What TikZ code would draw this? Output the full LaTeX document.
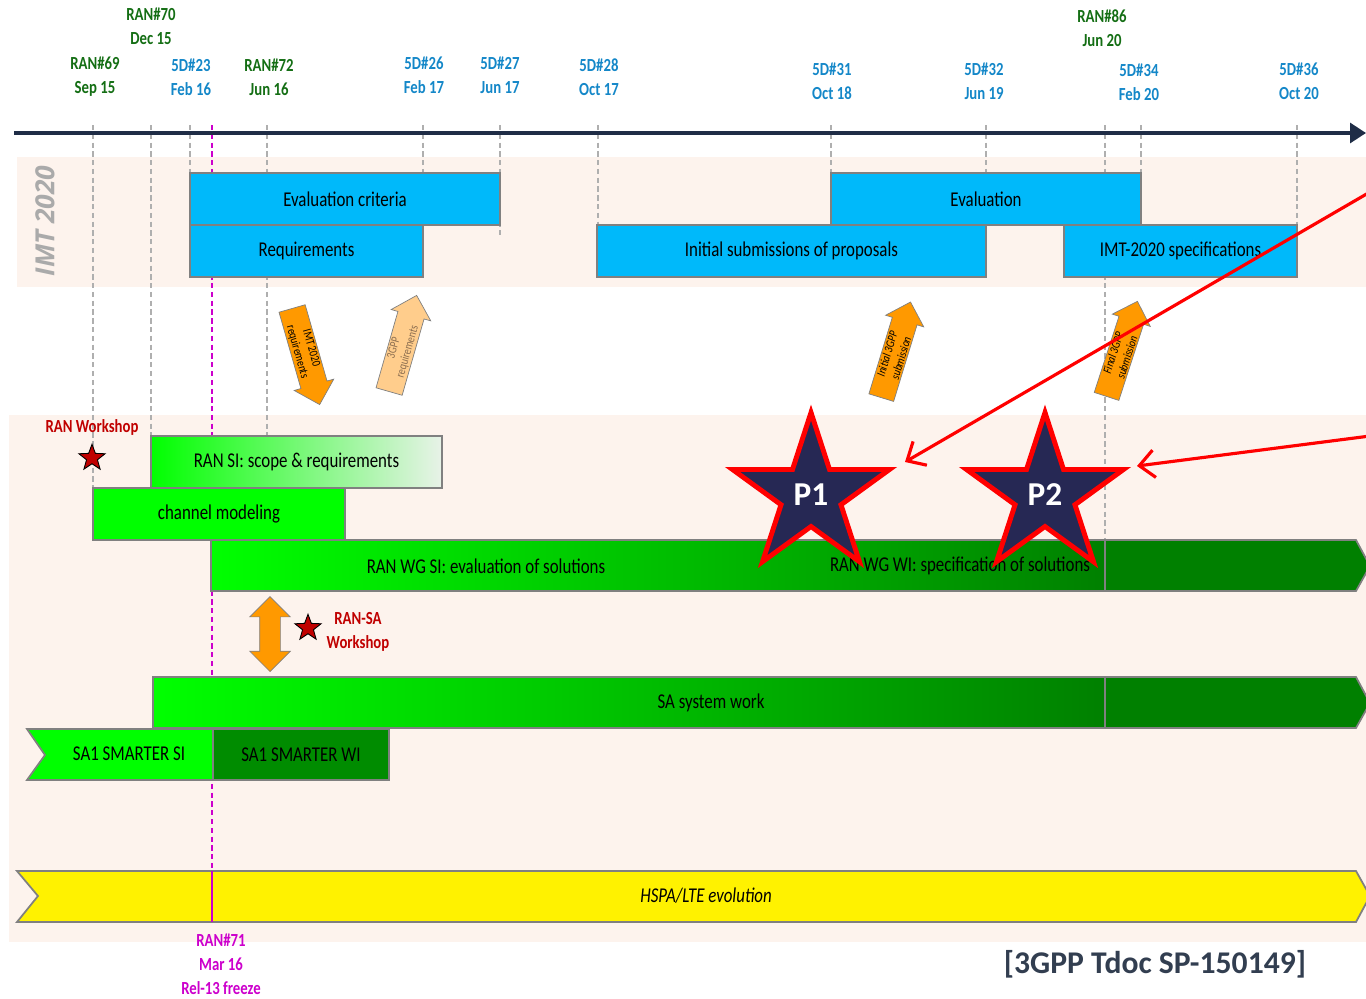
\documentclass[tikz,border=0pt]{standalone}
\usepackage{fontspec}
\setmainfont{Carlito}[FakeStretch=0.8]
\newfontfamily\plainfont{Carlito}
\newfontfamily\titlefont{Open Sans}
\usetikzlibrary{shapes.geometric,shapes.arrows,arrows.meta}

\definecolor{peach}{RGB}{253,243,237}
\definecolor{axisnavy}{RGB}{31,45,70}
\definecolor{tickgray}{RGB}{175,175,175}
\definecolor{edgegray}{RGB}{128,128,128}
\definecolor{labgreen}{RGB}{20,110,20}
\definecolor{labblue}{RGB}{20,135,200}
\definecolor{imtblue}{RGB}{0,185,250}
\definecolor{imtgray}{RGB}{170,170,170}
\definecolor{brightgreen}{RGB}{0,255,0}
\definecolor{darkgreen}{RGB}{0,128,0}
\definecolor{palegreen}{RGB}{232,242,232}
\definecolor{wigreen}{RGB}{0,140,0}
\definecolor{liaisonorange}{RGB}{255,153,0}
\definecolor{paleorange}{RGB}{255,205,140}
\definecolor{gpptext}{RGB}{140,110,80}
\definecolor{darkred}{RGB}{192,0,0}
\definecolor{freeze}{RGB}{204,0,204}
\definecolor{starnavy}{RGB}{38,40,84}
\definecolor{tdocgray}{RGB}{50,62,80}

\begin{document}
\begin{tikzpicture}[
    x=0.02cm, y=-0.02cm,
    band/.style={
        fill=peach
    },
    milestone/.style={
        tickgray,
        line width=0.8pt,
        dash pattern=on 3pt off 2pt
    },
    ran label/.style={
        text=labgreen,
        align=center,
        font=\bfseries\fontsize{10.5}{13.6}\selectfont
    },
    itu label/.style={
        text=labblue,
        align=center,
        font=\bfseries\fontsize{10.5}{13.6}\selectfont
    },
    imt box/.style={
        draw=edgegray,
        line width=1pt,
        fill=imtblue
    },
    gantt bar/.style={
        draw=edgegray,
        line width=1pt
    },
    bar text/.style={
        font=\fontsize{12}{14}\selectfont
    },
    liaison/.style={
        single arrow,
        draw=edgegray,
        line width=0.4pt,
        single arrow head extend=0.14cm,
        minimum height=2cm,
        inner xsep=1pt,
        inner ysep=0.6pt,
        align=center,
        font=\fontsize{7}{8.2}\selectfont
    },
    workshop/.style={
        text=darkred,
        align=center,
        font=\bfseries\fontsize{10.5}{13.6}\selectfont
    },
    ws star/.style={
        star,
        star points=5,
        star point ratio=2.4,
        minimum size=0.55cm,
        inner sep=0pt,
        fill=darkred,
        draw=black,
        line width=0.5pt
    },
    phase star/.style={
        star,
        star points=5,
        star point ratio=2.618,
        minimum size=3.3cm,
        inner sep=0pt,
        fill=starnavy,
        draw=red,
        line width=2.8pt,
        text=white,
        font=\plainfont\bfseries\fontsize{19}{21}\selectfont
    },
    pointer/.style={
        red,
        line width=1.8pt,
        -{Straight Barb[length=0.3cm,width=0.55cm]}
    },
    ]
    \useasboundingbox (0,0) rectangle (1366,998);

    % background bands
    \fill[band] (17,157) rectangle (1366,287);
    \fill[band] (9,415) rectangle (1366,942);
    \node[rotate=90, text=imtgray, font=\titlefont\bfseries\itshape\fontsize{15}{17}\selectfont] (imt title) at (45,221) {IMT 2020};

    % milestones
    \draw[milestone] (93,125) -- (93,488);
    \draw[milestone] (151,125) -- (151,436);
    \draw[milestone] (190,125) -- (190,173);
    \draw[milestone] (267,125) -- (267,436);
    \draw[milestone] (423,125) -- (423,173);
    \draw[milestone] (500,125) -- (500,235);
    \draw[milestone] (598,125) -- (598,225);
    \draw[milestone] (831,125) -- (831,173);
    \draw[milestone] (986,125) -- (986,225);
    \draw[milestone] (1105,125) -- (1105,540);
    \draw[milestone] (1141,125) -- (1141,173);
    \draw[milestone] (1297,125) -- (1297,225);
    \draw[freeze, line width=1pt, dash pattern=on 3pt off 2pt] (212,125) -- (212,871);

    % time axis
    \coordinate (t start) at (14,133);
    \coordinate (t end) at (1366,133);
    \draw[axisnavy, line width=1.8pt, -{Triangle[length=0.32cm,width=0.4cm]}] (t start) -- (t end);

    \node[ran label] (ran69) at (95,77) {RAN\#69\\Sep 15};
    \node[ran label] (ran70) at (151,26) {RAN\#70\\Dec 15};
    \node[itu label] (wp23) at (191,77) {5D\#23\\Feb 16};
    \node[ran label] (ran72) at (269,77) {RAN\#72\\Jun 16};
    \node[itu label] (wp26) at (424,75) {5D\#26\\Feb 17};
    \node[itu label] (wp27) at (500,75) {5D\#27\\Jun 17};
    \node[itu label] (wp28) at (599,77) {5D\#28\\Oct 17};
    \node[itu label] (wp31) at (832,81) {5D\#31\\Oct 18};
    \node[itu label] (wp32) at (984,81) {5D\#32\\Jun 19};
    \node[ran label] (ran86) at (1102,28) {RAN\#86\\Jun 20};
    \node[itu label] (wp34) at (1139,82) {5D\#34\\Feb 20};
    \node[itu label] (wp36) at (1299,81) {5D\#36\\Oct 20};

    % ITU-R work
    \draw[imt box] (190,173) rectangle (500,225) node[midway, bar text] (eval crit) {Evaluation criteria};
    \draw[imt box] (190,225) rectangle (423,277) node[midway, bar text] (requirements) {Requirements};
    \draw[imt box] (597,225) rectangle (986,277) node[midway, bar text] (initial subm) {Initial submissions of proposals};
    \draw[imt box] (831,173) rectangle (1141,225) node[midway, bar text] (evaluation) {Evaluation};
    \draw[imt box] (1064,225) rectangle (1297,277) node[midway, bar text] (imt spec) {IMT-2020 specifications};

    \node[liaison, fill=liaisonorange, rotate=-74] (imt req arrow) at (304,350) {IMT 2020\\requirements};
    \node[liaison, fill=paleorange, text=gpptext, rotate=74] (gpp req arrow) at (401,350) {3GPP\\requirements};
    \node[liaison, fill=liaisonorange, rotate=73, font=\itshape\fontsize{7}{8.2}\selectfont] (initial arrow) at (894,356) {Initial 3GPP\\submission};
    \node[liaison, fill=liaisonorange, rotate=72, font=\itshape\fontsize{7}{8.2}\selectfont] (final arrow) at (1120,355) {Final 3GPP\\submission};

    % RAN work
    \draw[gantt bar, left color=brightgreen, right color=palegreen] (151,436) rectangle (442,488) node[midway, bar text] (ran si) {RAN SI: scope \& requirements};
    \draw[gantt bar, fill=brightgreen] (93,488) rectangle (345,540) node[midway, bar text] (channel) {channel modeling};
    \draw[gantt bar, left color=brightgreen, right color=darkgreen] (211,540) rectangle (1105,591);
    \draw[gantt bar, fill=darkgreen] (1105,540) -- (1356,540) -- (1370,566) -- (1356,591) -- (1105,591) -- cycle;
    \node[bar text] (ran wg si) at (486,566) {RAN WG SI: evaluation of solutions};
    \node[bar text] (ran wg wi) at (960,566) {RAN WG WI: specification of solutions};

    \node[workshop] (ran ws) at (92,427) {RAN Workshop};
    \node[ws star] (ran ws star) at (92,458) {};

    \node[double arrow, fill=liaisonorange, draw=edgegray, line width=0.4pt, rotate=90, minimum height=1.5cm, inner sep=0.2cm, double arrow head extend=0.2cm] (ran sa arrow) at (270,634) {};
    \node[ws star] (ran sa star) at (308,628) {};
    \node[workshop] (ran sa ws) at (358,632) {RAN-SA\\Workshop};

    % SA work
    \draw[gantt bar, left color=brightgreen, right color=darkgreen] (153,677) rectangle (1105,728);
    \draw[gantt bar, fill=darkgreen] (1105,677) -- (1356,677) -- (1370,703) -- (1356,728) -- (1105,728) -- cycle;
    \node[bar text] (sa work) at (711,703) {SA system work};
    \draw[gantt bar, fill=brightgreen] (27,729) -- (213,729) -- (213,780) -- (27,780) -- (45,755) -- cycle;
    \node[bar text] (smarter si) at (129,754) {SA1 SMARTER SI};
    \draw[gantt bar, fill=wigreen] (213,729) rectangle (389,780) node[midway, bar text] (smarter wi) {SA1 SMARTER WI};

    % LTE track
    \draw[gantt bar, fill=yellow] (17,871) -- (1356,871) -- (1370,896) -- (1356,922) -- (17,922) -- (38,896) -- cycle;
    \node[font=\itshape\fontsize{12}{14}\selectfont] (hspa) at (706,896) {HSPA/LTE evolution};
    \draw[freeze, line width=1pt] (212,871) -- (212,922);
    \node[text=freeze, align=center, font=\bfseries\fontsize{10.5}{13.6}\selectfont] (ran71) at (221,964) {RAN\#71\\Mar 16\\Rel-13 freeze};

    % phases
    \node[phase star] (p1) at (811,495) {P1};
    \node[phase star] (p2) at (1045,495) {P2};

    \coordinate (note one) at (1370,192);
    \coordinate (p1 aim) at (905,462);
    \coordinate (note two) at (1370,436);
    \coordinate (p2 aim) at (1137,466);
    \draw[pointer] (note one) -- (p1 aim);
    \draw[pointer] (note two) -- (p2 aim);

    \node[text=tdocgray, font=\plainfont\bfseries\fontsize{18}{20}\selectfont] (tdoc) at (1155,964) {[3GPP Tdoc SP-150149]};
\end{tikzpicture}
\end{document}
